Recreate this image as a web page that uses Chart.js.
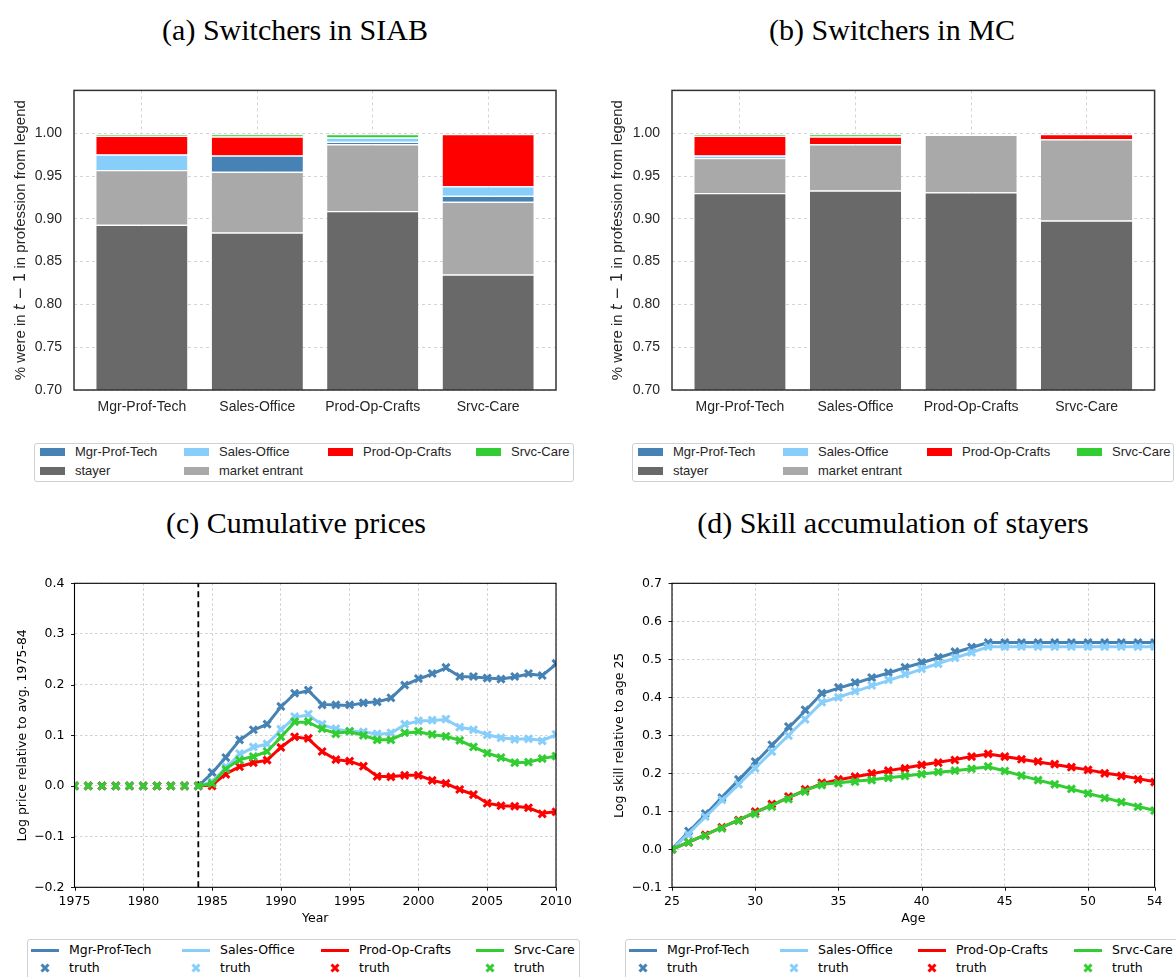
<!DOCTYPE html>
<html><head><meta charset="utf-8">
<script src="https://cdn.jsdelivr.net/npm/chart.js@4.4.1/dist/chart.umd.min.js"></script>
<style>
body{margin:0;width:1176px;height:977px;position:relative;overflow:hidden;background:#fff}
.title{position:absolute;font-family:'Liberation Serif',serif;font-size:30px;line-height:36px;text-align:center;color:#000;white-space:nowrap;width:600px}
canvas{position:absolute}
.lbox{position:absolute;border:1px solid #d0d0d0;border-radius:3px;box-sizing:border-box;background:#fff}
.lt{position:absolute;white-space:nowrap;line-height:16px}
.sw{position:absolute}
</style></head><body>
<div class="title" style="left:-5px;top:12px">(a) Switchers in SIAB</div>
<div class="title" style="left:592px;top:12px">(b) Switchers in MC</div>
<div class="title" style="left:-4px;top:505px">(c) Cumulative prices</div>
<div class="title" style="left:593px;top:505px">(d) Skill accumulation of stayers</div>
<script>
// ---------- data ----------
const categories = ['Mgr-Prof-Tech', 'Sales-Office', 'Prod-Op-Crafts', 'Srvc-Care'];
const occColors = ['#4682b4', '#87cefa', '#ff0000', '#32cd32'];
const stayerColor = '#696969';
const entrantColor = '#a9a9a9';
const barYTicks = [0.70, 0.75, 0.80, 0.85, 0.90, 0.95, 1.00];

// (a) switchers in SIAB (share of each origin group)
const siabStayer  = [0.893, 0.884, 0.909, 0.835];
const siabEntrant = [0.064, 0.071, 0.078, 0.085];
const siabMgr     = [0.000, 0.019, 0.003, 0.007];
const siabSales   = [0.018, 0.000, 0.005, 0.011];
const siabProd    = [0.022, 0.022, 0.000, 0.061];
const siabSrvc    = [0.002, 0.003, 0.004, 0.000];

// (b) switchers in MC
const mcStayer  = [0.930, 0.933, 0.931, 0.898];
const mcEntrant = [0.041, 0.054, 0.067, 0.095];
const mcMgr     = [0.000, 0.000, 0.000, 0.000];
const mcSales   = [0.003, 0.000, 0.000, 0.000];
const mcProd    = [0.023, 0.009, 0.000, 0.006];
const mcSrvc    = [0.002, 0.003, 0.000, 0.000];

// (c) cumulative prices
const years = [1975,1976,1977,1978,1979,1980,1981,1982,1983,1984,1985,1986,1987,1988,1989,1990,1991,1992,1993,1994,1995,1996,1997,1998,1999,2000,2001,2002,2003,2004,2005,2006,2007,2008,2009,2010];
const modelYears = [1984,1985,1986,1987,1988,1989,1990,1991,1992,1993,1994,1995,1996,1997,1998,1999,2000,2001,2002,2003,2004,2005,2006,2007,2008,2009,2010];
const yearTicks = [1975, 1980, 1985, 1990, 1995, 2000, 2005, 2010];
const priceTicks = [-0.2, -0.1, 0.0, 0.1, 0.2, 0.3, 0.4];
const reformYear = 1984;

const modelMgrC   = [0.000,0.025,0.057,0.090,0.110,0.122,0.156,0.182,0.188,0.161,0.160,0.159,0.164,0.166,0.173,0.199,0.211,0.221,0.233,0.216,0.215,0.213,0.211,0.215,0.221,0.218,0.240];
const modelSalesC = [0.000,0.008,0.036,0.062,0.076,0.083,0.110,0.136,0.140,0.121,0.112,0.108,0.107,0.102,0.104,0.121,0.128,0.129,0.131,0.116,0.111,0.101,0.095,0.092,0.093,0.090,0.101];
const modelProdC  = [0.000,0.002,0.024,0.038,0.046,0.051,0.076,0.097,0.093,0.068,0.052,0.049,0.039,0.019,0.018,0.021,0.021,0.011,0.005,-0.007,-0.017,-0.034,-0.039,-0.040,-0.043,-0.054,-0.051];
const modelSrvcC  = [0.000,0.005,0.034,0.052,0.058,0.068,0.096,0.126,0.126,0.112,0.104,0.107,0.100,0.091,0.091,0.104,0.107,0.101,0.098,0.090,0.077,0.065,0.056,0.046,0.047,0.054,0.059];

const truthMgrC   = [0,0,0,0,0,0,0,0,0,0,0.027,0.056,0.091,0.111,0.122,0.157,0.183,0.189,0.160,0.160,0.160,0.164,0.166,0.174,0.199,0.212,0.222,0.234,0.216,0.216,0.213,0.211,0.216,0.222,0.218,0.242];
const truthSalesC = [0,0,0,0,0,0,0,0,0,0,0.008,0.038,0.064,0.077,0.083,0.112,0.137,0.142,0.122,0.113,0.108,0.107,0.103,0.105,0.122,0.129,0.130,0.132,0.116,0.111,0.101,0.095,0.092,0.093,0.089,0.102];
const truthProdC  = [0,0,0,0,0,0,0,0,0,0,0.000,0.023,0.038,0.046,0.051,0.076,0.097,0.094,0.068,0.052,0.049,0.039,0.019,0.018,0.021,0.021,0.011,0.005,-0.007,-0.017,-0.034,-0.039,-0.040,-0.043,-0.055,-0.051];
const truthSrvcC  = [0,0,0,0,0,0,0,0,0,0,0.005,0.033,0.051,0.058,0.068,0.097,0.127,0.127,0.113,0.103,0.108,0.100,0.091,0.091,0.105,0.108,0.102,0.098,0.090,0.077,0.065,0.056,0.046,0.047,0.054,0.059];

// (d) skill accumulation of stayers
const ages = [25,26,27,28,29,30,31,32,33,34,35,36,37,38,39,40,41,42,43,44,45,46,47,48,49,50,51,52,53,54];
const ageTicks = [25, 30, 35, 40, 45, 50, 54];
const skillTicks = [-0.1, 0.0, 0.1, 0.2, 0.3, 0.4, 0.5, 0.6, 0.7];

const modelMgrD   = [0,0.046,0.091,0.137,0.182,0.228,0.273,0.319,0.364,0.410,0.424,0.437,0.451,0.464,0.478,0.491,0.504,0.518,0.531,0.544,0.544,0.544,0.544,0.544,0.544,0.544,0.544,0.544,0.544,0.544];
const modelSalesD = [0,0.042,0.085,0.128,0.171,0.214,0.257,0.300,0.343,0.386,0.400,0.415,0.430,0.444,0.459,0.474,0.489,0.503,0.518,0.533,0.533,0.533,0.533,0.533,0.533,0.533,0.533,0.533,0.533,0.533];
const modelProdD  = [0,0.019,0.038,0.058,0.077,0.097,0.116,0.136,0.155,0.173,0.183,0.191,0.199,0.207,0.214,0.222,0.229,0.236,0.244,0.251,0.244,0.237,0.230,0.223,0.216,0.209,0.201,0.194,0.186,0.178];
const modelSrvcD  = [0,0.019,0.038,0.058,0.077,0.097,0.116,0.136,0.155,0.171,0.175,0.179,0.183,0.188,0.193,0.198,0.203,0.207,0.212,0.217,0.206,0.194,0.182,0.171,0.159,0.147,0.136,0.124,0.113,0.102];

const truthMgrD   = [0,0.048,0.094,0.136,0.184,0.231,0.275,0.323,0.367,0.411,0.426,0.439,0.452,0.465,0.479,0.492,0.505,0.520,0.532,0.544,0.544,0.544,0.544,0.544,0.544,0.544,0.544,0.544,0.544,0.544];
const truthSalesD = [0,0.038,0.086,0.130,0.171,0.213,0.257,0.299,0.342,0.387,0.400,0.416,0.431,0.446,0.461,0.475,0.488,0.504,0.518,0.533,0.533,0.533,0.533,0.533,0.533,0.533,0.533,0.533,0.533,0.533];
const truthProdD  = [0,0.018,0.038,0.058,0.077,0.099,0.119,0.139,0.158,0.175,0.184,0.191,0.200,0.207,0.213,0.222,0.228,0.235,0.244,0.251,0.244,0.237,0.231,0.224,0.216,0.209,0.200,0.193,0.184,0.177];
const truthSrvcD  = [0,0.018,0.035,0.055,0.075,0.093,0.112,0.132,0.152,0.169,0.174,0.178,0.182,0.188,0.193,0.198,0.204,0.207,0.212,0.218,0.206,0.194,0.182,0.171,0.159,0.147,0.135,0.124,0.112,0.102];

// ---------- helpers ----------
const minus = v => (v < 0 ? '\u2212' : '') + Math.abs(v).toFixed(1);

const deco = {
  id: 'deco',
  afterDatasetsDraw(chart, args, o) {
    if (!o || !o.on) return;
    const ctx = chart.ctx, a = chart.chartArea;
    ctx.save();
    ctx.setLineDash([]);
    if (o.tickLen) {
      ctx.strokeStyle = o.frameColor; ctx.lineWidth = 0.9;
      const xs = chart.scales.x, ys = chart.scales.y;
      ctx.beginPath();
      xs.ticks.forEach(t => { const p = Math.round(xs.getPixelForValue(t.value)) + 0.5; ctx.moveTo(p, a.bottom); ctx.lineTo(p, a.bottom + o.tickLen); });
      ys.ticks.forEach(t => { const p = Math.round(ys.getPixelForValue(t.value)) + 0.5; ctx.moveTo(a.left, p); ctx.lineTo(a.left - o.tickLen, p); });
      ctx.stroke();
    }
    ctx.strokeStyle = o.frameColor; ctx.lineWidth = o.frameWidth;
    ctx.strokeRect(a.left, a.top, a.right - a.left, a.bottom - a.top);
    ctx.restore();
  },
  afterDraw(chart, args, o) {
    if (!o || !o.on) return;
    const ctx = chart.ctx, a = chart.chartArea;
    ctx.save();
    ctx.fillStyle = o.color;
    ctx.textBaseline = 'middle';
    ctx.translate(a.left - o.ylabelOffset, (a.top + a.bottom) / 2);
    ctx.rotate(-Math.PI / 2);
    let total = 0;
    o.ylabel.forEach(s => { ctx.font = s.font; s.w = ctx.measureText(s.text).width; total += s.w; });
    let x = -total / 2;
    ctx.textAlign = 'left';
    o.ylabel.forEach(s => { ctx.font = s.font; ctx.fillText(s.text, x, 0); x += s.w; });
    ctx.restore();
    if (o.xlabel) {
      ctx.save();
      ctx.font = o.xfont; ctx.fillStyle = o.color;
      ctx.textAlign = 'center'; ctx.textBaseline = 'middle';
      ctx.fillText(o.xlabel, (a.left + a.right) / 2, a.bottom + o.xlabelOffset);
      ctx.restore();
    }
  }
};
Chart.register(deco);

function makeCanvas(left, top, w, h) {
  const c = document.createElement('canvas');
  c.width = w; c.height = h;
  c.style.left = left + 'px'; c.style.top = top + 'px';
  c.style.width = w + 'px'; c.style.height = h + 'px';
  document.body.appendChild(c);
  return c;
}

const sansA = 'Liberation Sans';
const textA = '#262626';

function barChart(canvas, padRight, yWidth, parts) {
  const series = [
    { label: 'stayer', data: parts.stayer, color: stayerColor },
    { label: 'market entrant', data: parts.entrant, color: entrantColor },
    { label: categories[0], data: parts.mgr, color: occColors[0] },
    { label: categories[1], data: parts.sales, color: occColors[1] },
    { label: categories[2], data: parts.prod, color: occColors[2] },
    { label: categories[3], data: parts.srvc, color: occColors[3] }
  ];
  return new Chart(canvas, {
    type: 'bar',
    data: {
      datasets: series.map(s => ({
        label: s.label,
        data: s.data.map((v, i) => ({ x: i, y: v })),
        backgroundColor: s.color,
        borderColor: '#ffffff',
        borderWidth: { top: 1.2, left: 0, right: 0, bottom: 0 },
        borderSkipped: 'start',
        barPercentage: 0.79,
        categoryPercentage: 1.0,
        clip: 0
      }))
    },
    options: {
      responsive: false, animation: false, events: [],
      layout: { padding: { left: 0, top: 16, right: padRight, bottom: 0 } },
      plugins: {
        legend: { display: false }, tooltip: { enabled: false },
        deco: {
          on: true, frameColor: '#333333', frameWidth: 1.5, tickLen: 0, color: textA,
          ylabelOffset: yWidth === 74 ? 53 : 54,
          ylabel: [
            { text: '% were in ', font: '15px "' + sansA + '"' },
            { text: 't', font: 'italic 15px "DejaVu Sans"' },
            { text: ' \u2212 1', font: '15px "DejaVu Sans"' },
            { text: ' in profession from legend', font: '15px "' + sansA + '"' }
          ]
        }
      },
      scales: {
        x: {
          type: 'linear', min: -0.588, max: 3.588, offset: false, stacked: true,
          afterBuildTicks: s => { s.ticks = categories.map((_, i) => ({ value: i })); },
          ticks: { callback: v => categories[v], font: { family: sansA, size: 14 }, color: textA, padding: 9, autoSkip: false, maxRotation: 0, minRotation: 0 },
          grid: { color: '#d0d0d0', lineWidth: 0.9, drawTicks: false, offset: false },
          border: { display: false, dash: [3, 3] },
          afterFit: s => { s.height = 40; }
        },
        y: {
          type: 'linear', min: 0.70, max: 1.05, stacked: true,
          afterBuildTicks: s => { s.ticks = barYTicks.map(v => ({ value: v })); },
          ticks: { callback: v => Number(v).toFixed(2), font: { family: sansA, size: 14 }, color: textA, padding: 12 },
          grid: { color: '#d0d0d0', lineWidth: 0.9, drawTicks: false },
          border: { display: false, dash: [3, 3] },
          afterFit: s => { s.width = yWidth; }
        }
      }
    }
  });
}

function lineChart(canvas, padRight, yWidth, cfg) {
  const datasets = [];
  if (cfg.vline !== undefined) {
    datasets.push({
      label: 'vline', data: [{ x: cfg.vline, y: cfg.yMin }, { x: cfg.vline, y: cfg.yMax }],
      borderColor: '#000', borderWidth: 1.8, borderDash: [6, 4], pointRadius: 0, order: 20, clip: 0
    });
  }
  cfg.series.forEach((s, k) => {
    datasets.push({
      label: s.name, data: s.mx.map((x, i) => ({ x, y: s.model[i] })),
      borderColor: s.color, backgroundColor: s.color, borderWidth: 3, pointRadius: 0,
      tension: 0, order: 10 - 2 * k, clip: 0
    });
    datasets.push({
      label: 'truth', data: s.tx.map((x, i) => ({ x, y: s.truth[i] })),
      showLine: false, pointStyle: 'crossRot', pointRadius: 5, pointBorderWidth: 3,
      borderColor: s.color, pointBorderColor: s.color, backgroundColor: s.color,
      order: 9 - 2 * k, clip: 0
    });
  });
  return new Chart(canvas, {
    type: 'line',
    data: { datasets },
    options: {
      responsive: false, animation: false, events: [],
      layout: { padding: { left: 0, top: 18.3, right: padRight, bottom: 0 } },
      plugins: {
        legend: { display: false }, tooltip: { enabled: false },
        deco: {
          on: true, frameColor: '#000', frameWidth: 1.1, tickLen: 3.5, color: '#000',
          ylabelOffset: 52,
          ylabel: [{ text: cfg.ylabel, font: '12.5px "DejaVu Sans"' }],
          xlabel: cfg.xlabel, xfont: '12.5px "DejaVu Sans"', xlabelOffset: 31.7
        }
      },
      scales: {
        x: {
          type: 'linear', min: cfg.xMin, max: cfg.xMax, offset: false,
          afterBuildTicks: s => { s.ticks = cfg.xTicks.map(v => ({ value: v })); },
          ticks: { callback: v => String(v), font: { family: 'DejaVu Sans', size: 12.5 }, color: '#000', padding: 7, autoSkip: false, maxRotation: 0, minRotation: 0 },
          grid: { color: '#c4c4c4', lineWidth: 0.8, drawTicks: false },
          border: { display: false, dash: [2.5, 2.5] },
          afterFit: s => { s.height = 42.7; }
        },
        y: {
          type: 'linear', min: cfg.yMin, max: cfg.yMax,
          afterBuildTicks: s => { s.ticks = cfg.yTicks.map(v => ({ value: v })); },
          ticks: { callback: v => minus(v), font: { family: 'DejaVu Sans', size: 12.5 }, color: '#000', padding: 10 },
          grid: { color: '#c4c4c4', lineWidth: 0.8, drawTicks: false },
          border: { display: false, dash: [2.5, 2.5] },
          afterFit: s => { s.width = yWidth; }
        }
      }
    }
  });
}

// ---------- charts ----------
barChart(makeCanvas(0, 70, 590, 360), 34, 74,
  { stayer: siabStayer, entrant: siabEntrant, mgr: siabMgr, sales: siabSales, prod: siabProd, srvc: siabSrvc });
barChart(makeCanvas(590, 70, 586, 360), 21.4, 82,
  { stayer: mcStayer, entrant: mcEntrant, mgr: mcMgr, sales: mcSales, prod: mcProd, srvc: mcSrvc });

lineChart(makeCanvas(0, 565, 590, 365), 34, 74.5, {
  xMin: 1975, xMax: 2010, yMin: -0.2, yMax: 0.4, xTicks: yearTicks, yTicks: priceTicks,
  vline: reformYear, xlabel: 'Year', ylabel: 'Log price relative to avg. 1975-84',
  series: [
    { name: categories[0], color: occColors[0], mx: modelYears, model: modelMgrC, tx: years, truth: truthMgrC },
    { name: categories[1], color: occColors[1], mx: modelYears, model: modelSalesC, tx: years, truth: truthSalesC },
    { name: categories[2], color: occColors[2], mx: modelYears, model: modelProdC, tx: years, truth: truthProdC },
    { name: categories[3], color: occColors[3], mx: modelYears, model: modelSrvcC, tx: years, truth: truthSrvcC }
  ]
});
lineChart(makeCanvas(590, 565, 586, 365), 21.4, 82, {
  xMin: 25, xMax: 54, yMin: -0.1, yMax: 0.7, xTicks: ageTicks, yTicks: skillTicks,
  xlabel: 'Age', ylabel: 'Log skill relative to age 25',
  series: [
    { name: categories[0], color: occColors[0], mx: ages, model: modelMgrD, tx: ages, truth: truthMgrD },
    { name: categories[1], color: occColors[1], mx: ages, model: modelSalesD, tx: ages, truth: truthSalesD },
    { name: categories[2], color: occColors[2], mx: ages, model: modelProdD, tx: ages, truth: truthProdD },
    { name: categories[3], color: occColors[3], mx: ages, model: modelSrvcD, tx: ages, truth: truthSrvcD }
  ]
});

// ---------- legends (HTML) ----------
function el(cls, css, html) {
  const d = document.createElement('div');
  d.className = cls; Object.assign(d.style, css);
  if (html !== undefined) d.textContent = html;
  document.body.appendChild(d);
  return d;
}
function text(t, x, yc, font, color) {
  el('lt', { left: x + 'px', top: (yc - 8) + 'px', font: font, color: color }, t);
}
function barLegend(box, patchX, rowsY) {
  el('lbox', { left: box[0] + 'px', top: box[1] + 'px', width: box[2] + 'px', height: box[3] + 'px' });
  const items = [
    { name: categories[0], color: occColors[0], col: 0, row: 0 },
    { name: categories[1], color: occColors[1], col: 1, row: 0 },
    { name: categories[2], color: occColors[2], col: 2, row: 0 },
    { name: categories[3], color: occColors[3], col: 3, row: 0 },
    { name: 'stayer', color: stayerColor, col: 0, row: 1 },
    { name: 'market entrant', color: entrantColor, col: 1, row: 1 }
  ];
  items.forEach(it => {
    const yc = rowsY[it.row];
    el('sw', { left: patchX[it.col] + 'px', top: (yc - 4) + 'px', width: '25px', height: '8px', background: it.color });
    text(it.name, patchX[it.col] + 35, yc, '13px "Liberation Sans"', textA);
  });
}
function lineLegend(box, sampleX, rowsY) {
  el('lbox', { left: box[0] + 'px', top: box[1] + 'px', width: box[2] + 'px', height: box[3] + 'px' });
  categories.forEach((name, k) => {
    const x0 = sampleX[k];
    el('sw', { left: x0 + 'px', top: (rowsY[0] - 1.5) + 'px', width: '28px', height: '3px', background: occColors[k] });
    text(name, x0 + 38, rowsY[0], '12.5px "DejaVu Sans"', '#000');
    const cx = x0 + 14, cy = rowsY[1];
    const svg = document.createElementNS('http://www.w3.org/2000/svg', 'svg');
    svg.setAttribute('width', '12'); svg.setAttribute('height', '12');
    svg.style.position = 'absolute'; svg.style.left = (cx - 6) + 'px'; svg.style.top = (cy - 6) + 'px';
    svg.innerHTML = '<path d="M2.5 2.5 L9.5 9.5 M9.5 2.5 L2.5 9.5" stroke="' + occColors[k] + '" stroke-width="3"/>';
    document.body.appendChild(svg);
    text('truth', x0 + 38, rowsY[1], '12.5px "DejaVu Sans"', '#000');
  });
}
barLegend([34, 443, 540, 39], [40, 184, 328, 476], [452, 471]);
barLegend([632, 443, 542, 39], [638, 783, 927, 1077], [452, 471]);
lineLegend([27, 939, 553, 60], [31, 182, 321, 476], [950, 968]);
lineLegend([625, 939, 600, 60], [629, 780, 918, 1074], [950, 968]);
</script>
</body></html>
